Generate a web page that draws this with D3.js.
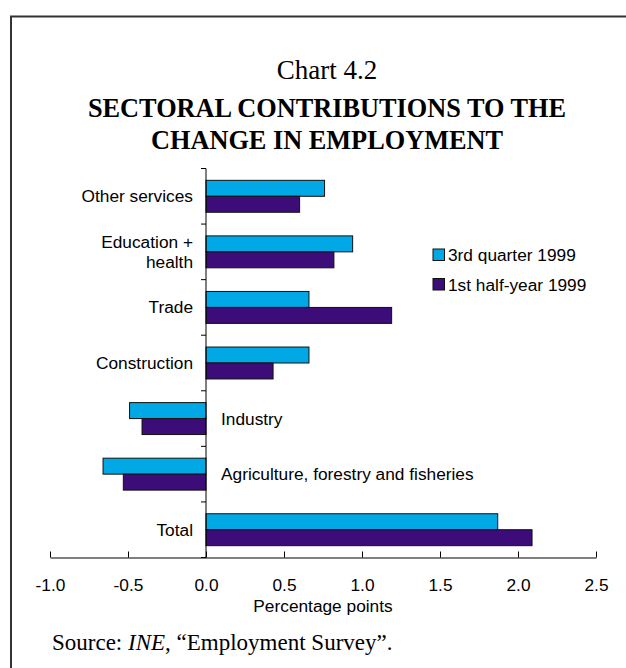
<!DOCTYPE html>
<html>
<head>
<meta charset="utf-8">
<script src="https://cdn.jsdelivr.net/npm/d3@7"></script>
<style>
  html, body { margin: 0; padding: 0; background: #fff; }
  svg { display: block; }
</style>
</head>
<body>
<svg id="chart" width="626" height="668"></svg>
<script>
// Sectors, top to bottom
const categories = [
  "Other services",
  "Education + health",
  "Trade",
  "Construction",
  "Industry",
  "Agriculture, forestry and fisheries",
  "Total"
];
const seriesNames = ["3rd quarter 1999", "1st half-year 1999"];
const q3_1999 = [0.76, 0.94, 0.66, 0.66, -0.49, -0.66, 1.87];
const h1_1999 = [0.60, 0.82, 1.19, 0.43, -0.41, -0.53, 2.09];
const xTicks = [-1.0, -0.5, 0.0, 0.5, 1.0, 1.5, 2.0, 2.5];
const colors = ["#00a8e6", "#3c0c78"];

const svg = d3.select("#chart");

// Outer frame
svg.append("path")
  .attr("d", "M11,700 L11,16.5 L640,16.5")
  .attr("fill", "none")
  .attr("stroke", "#333")
  .attr("stroke-width", 2);

// Titles
const serif = "'Liberation Serif', 'DejaVu Serif', serif";
const sans = "'Liberation Sans', Arial, sans-serif";
const fs = 17.3;
const tx = 327;
svg.append("text").attr("x", tx).attr("y", 79)
  .attr("text-anchor", "middle").attr("font-family", serif).attr("font-size", 27)
  .text("Chart 4.2");
svg.append("text").attr("x", tx).attr("y", 117)
  .attr("text-anchor", "middle").attr("font-family", serif).attr("font-size", 26.3)
  .attr("font-weight", "bold")
  .text("SECTORAL CONTRIBUTIONS TO THE");
svg.append("text").attr("x", tx).attr("y", 149)
  .attr("text-anchor", "middle").attr("font-family", serif).attr("font-size", 26.3)
  .attr("font-weight", "bold")
  .text("CHANGE IN EMPLOYMENT");

// Scales
const x = d3.scaleLinear().domain([-1.0, 2.5]).range([50, 596]);
const y = d3.scaleBand().domain(categories).range([168.5, 557.5]).padding(0);
const ySub = d3.scaleBand().domain(seriesNames).range([0, y.bandwidth()])
  .paddingInner(0).paddingOuter(0.74);

const g = svg.append("g");

// Bars
const rows = categories.map((c, i) => ({ cat: c, vals: [q3_1999[i], h1_1999[i]] }));
const rowG = g.selectAll("g.row").data(rows).join("g")
  .attr("class", "row")
  .attr("transform", d => `translate(0,${y(d.cat)})`);
rowG.selectAll("rect").data(d => d.vals.map((v, k) => ({ v, s: seriesNames[k], k })))
  .join("rect")
  .attr("x", d => x(Math.min(0, d.v)))
  .attr("y", d => ySub(d.s))
  .attr("width", d => Math.abs(x(d.v) - x(0)))
  .attr("height", ySub.bandwidth())
  .attr("fill", d => colors[d.k])
  .attr("stroke", "#111")
  .attr("stroke-width", 1);

// X axis with ticks pointing up; plain hyphen for negatives
const fmt = d => d3.format(".1f")(d).replace("\u2212", "-");
const xAxis = d3.axisBottom(x).tickValues(xTicks).tickFormat(fmt)
  .tickSizeInner(-6).tickSizeOuter(0).tickPadding(21);
const xg = svg.append("g").attr("transform", `translate(0,${557.5})`).call(xAxis);
xg.select(".domain").attr("stroke", "#000");
xg.selectAll(".tick line").attr("stroke", "#000");
xg.selectAll(".tick text").attr("font-family", sans).attr("font-size", fs).attr("fill", "#000")
  .attr("dy", "0.71em");

// Y axis: vertical line at zero with ticks at band boundaries
const yLine = svg.append("g");
yLine.append("line")
  .attr("x1", x(0)).attr("x2", x(0))
  .attr("y1", y.range()[0]).attr("y2", y.range()[1])
  .attr("stroke", "#000");
const bounds = categories.map(c => y(c)).concat([y.range()[1]]);
yLine.selectAll("line.tk").data(bounds).join("line")
  .attr("class", "tk")
  .attr("x1", x(0) - 5).attr("x2", x(0))
  .attr("y1", d => d).attr("y2", d => d)
  .attr("stroke", "#000");

// Category labels: left of the axis for positive rows, right of it for negative rows
const labelLines = {
  "Education + health": ["Education +", "health"]
};
rows.forEach(r => {
  const neg = r.vals[0] < 0 && r.vals[1] < 0;
  const lines = labelLines[r.cat] || [r.cat];
  const cy = y(r.cat) + y.bandwidth() / 2;
  const lx = neg ? x(0) + 15 : x(0) - 13;
  const t = svg.append("text")
    .attr("font-family", sans).attr("font-size", fs).attr("fill", "#000")
    .attr("text-anchor", neg ? "start" : "end");
  lines.forEach((ln, j) => {
    t.append("tspan")
      .attr("x", lx)
      .attr("y", cy + (j - (lines.length - 1) / 2) * 20)
      .attr("dy", "0.35em")
      .text(ln);
  });
});

// Axis title, centred under the full axis
const xr = x.range();
svg.append("text").attr("x", (xr[0] + xr[1]) / 2).attr("y", 612)
  .attr("text-anchor", "middle").attr("font-family", sans).attr("font-size", fs)
  .text("Percentage points");

// Legend
const leg = svg.append("g").attr("transform", "translate(433,249)");
seriesNames.forEach((s, k) => {
  const lg = leg.append("g").attr("transform", `translate(0,${k * 29.5})`);
  lg.append("rect").attr("width", 11.5).attr("height", 11.5)
    .attr("fill", colors[k]).attr("stroke", "#111").attr("stroke-width", 1);
  lg.append("text").attr("x", 15).attr("y", 6).attr("dy", "0.35em")
    .attr("font-family", sans).attr("font-size", fs).text(s);
});

// Source note
const src = svg.append("text").attr("x", 52).attr("y", 650)
  .attr("font-family", serif).attr("font-size", 23);
src.append("tspan").text("Source: ");
src.append("tspan").attr("font-style", "italic").text("INE");
src.append("tspan").text(", \u201CEmployment Survey\u201D.");
</script>
</body>
</html>
